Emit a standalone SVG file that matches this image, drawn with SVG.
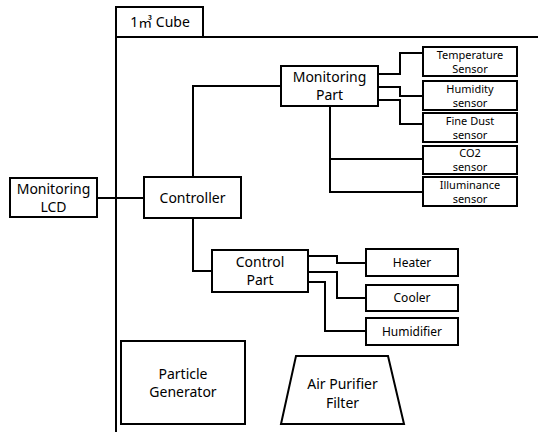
<svg xmlns="http://www.w3.org/2000/svg" width="538" height="432" viewBox="0 0 538 432">
<style>
.b{fill:#fff;stroke:#000;stroke-width:2}
.c{fill:none;stroke:#000;stroke-width:2}
text{font-family:"Noto Sans","Noto Sans CJK KR",sans-serif;fill:#000;text-anchor:middle}
.t{font-size:14px}
.s{font-size:11px}
.m{font-size:12px}
</style>
<rect width="538" height="432" fill="#fff"/>
<g id="cube">
<path class="c" d="M116,432 V7 H203 V37 M116,37 H538"/>
<text class="t" x="160" y="27">1㎥ Cube</text>
</g>
<g id="connectors">
<path class="c" d="M97,198 H144"/>
<path class="c" d="M193,177 V86 H281"/>
<path class="c" d="M193,218 V271 H212"/>
<path class="c" d="M378,74 H400 V53 H423"/>
<path class="c" d="M378,87 H400 V96 H423"/>
<path class="c" d="M378,100 H400 V124 H423"/>
<path class="c" d="M330,106 V192 H423 M330,159 H423"/>
<path class="c" d="M308,256 H337 V263 H366"/>
<path class="c" d="M308,272 H337 V298 H366"/>
<path class="c" d="M308,282 H325 V331 H366"/>
</g>
<g id="lcd">
<rect class="b" x="10" y="178" width="87" height="39"/>
<text class="t" x="53.5" y="194">Monitoring</text>
<text class="t" x="53.5" y="212">LCD</text>
</g>
<g id="controller">
<rect class="b" x="144" y="177" width="97" height="41"/>
<text class="t" x="192.5" y="203">Controller</text>
</g>
<g id="monitoring-part">
<rect class="b" x="281" y="66" width="97" height="40"/>
<text class="t" x="329.5" y="82">Monitoring</text>
<text class="t" x="329.5" y="100">Part</text>
</g>
<g id="temperature">
<rect class="b" x="423" y="47" width="94" height="29"/>
<text class="s" x="470" y="59">Temperature</text>
<text class="s" x="470" y="73">Sensor</text>
</g>
<g id="humidity">
<rect class="b" x="423" y="81" width="94" height="29"/>
<text class="s" x="470" y="93">Humidity</text>
<text class="s" x="470" y="107">sensor</text>
</g>
<g id="finedust">
<rect class="b" x="423" y="113" width="94" height="29"/>
<text class="s" x="470" y="125">Fine Dust</text>
<text class="s" x="470" y="139">sensor</text>
</g>
<g id="co2">
<rect class="b" x="423" y="146" width="94" height="28"/>
<text class="s" x="470" y="157">CO2</text>
<text class="s" x="470" y="171">sensor</text>
</g>
<g id="illuminance">
<rect class="b" x="423" y="177" width="94" height="29"/>
<text class="s" x="470" y="189">Illuminance</text>
<text class="s" x="470" y="203">sensor</text>
</g>
<g id="control-part">
<rect class="b" x="212" y="250" width="96" height="42"/>
<text class="t" x="260" y="267">Control</text>
<text class="t" x="260" y="285">Part</text>
</g>
<g id="heater">
<rect class="b" x="366" y="249" width="92" height="27"/>
<text class="m" x="412" y="267">Heater</text>
</g>
<g id="cooler">
<rect class="b" x="366" y="285" width="92" height="26"/>
<text class="m" x="412" y="302">Cooler</text>
</g>
<g id="humidifier">
<rect class="b" x="366" y="318" width="92" height="27"/>
<text class="m" x="412" y="336">Humidifier</text>
</g>
<g id="particle-generator">
<rect class="b" x="121" y="341" width="124" height="83"/>
<text class="t" x="183" y="379">Particle</text>
<text class="t" x="183" y="397">Generator</text>
</g>
<g id="air-purifier">
<polygon class="b" points="296,356 388,356 404,424 281,424"/>
<text class="t" x="342.5" y="389">Air Purifier</text>
<text class="t" x="342.5" y="408">Filter</text>
</g>
</svg>
